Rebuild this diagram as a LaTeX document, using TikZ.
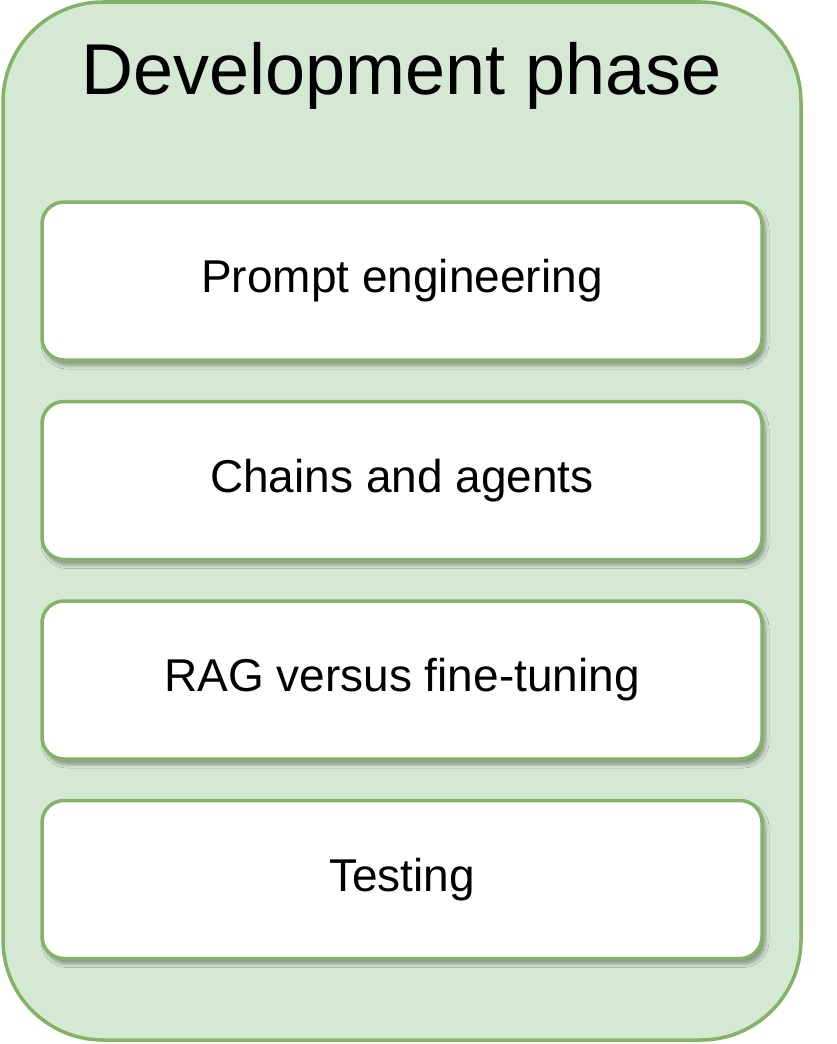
\documentclass[tikz,border=0pt]{standalone}
\usepackage{fontspec}
\setmainfont{Liberation Sans}
\usepackage{xcolor}
\usetikzlibrary{positioning,shadows.blur}
\definecolor{phasefill}{HTML}{D5E8D4}
\definecolor{phaseline}{HTML}{82B366}

\begin{document}
\begin{tikzpicture}[x=1pt, y=1pt, text centered]
  % Styles
  \tikzstyle{phase}=[rectangle, draw=phaseline, fill=phasefill, line width=3.5pt, rounded corners=100pt]
  \tikzstyle{task}=[rectangle, draw=phaseline, fill=white, line width=3.5pt, rounded corners=22pt,
    minimum width=720pt, minimum height=158pt, font=\fontsize{46}{55}\selectfont,
    blur shadow={shadow xshift=3pt, shadow yshift=-5pt, shadow blur steps=8, shadow blur radius=4pt, shadow opacity=40}]

  \useasboundingbox (0,0) rectangle (836,-1044);

  % Phase container
  \node[phase, minimum width=798pt, minimum height=1038pt] (phase) at (402,-521) {};
  \node[font=\fontsize{72}{86}\selectfont, below=39pt of phase.north] (title) {Development phase};

  % Tasks
  \node[task] (prompt) at (402,-281) {Prompt engineering};
  \node[task, below=38pt of prompt] (chains) {Chains and agents};
  \node[task, below=38pt of chains] (rag) {RAG versus fine-tuning};
  \node[task, below=38pt of rag] (testing) {Testing};
\end{tikzpicture}
\end{document}
